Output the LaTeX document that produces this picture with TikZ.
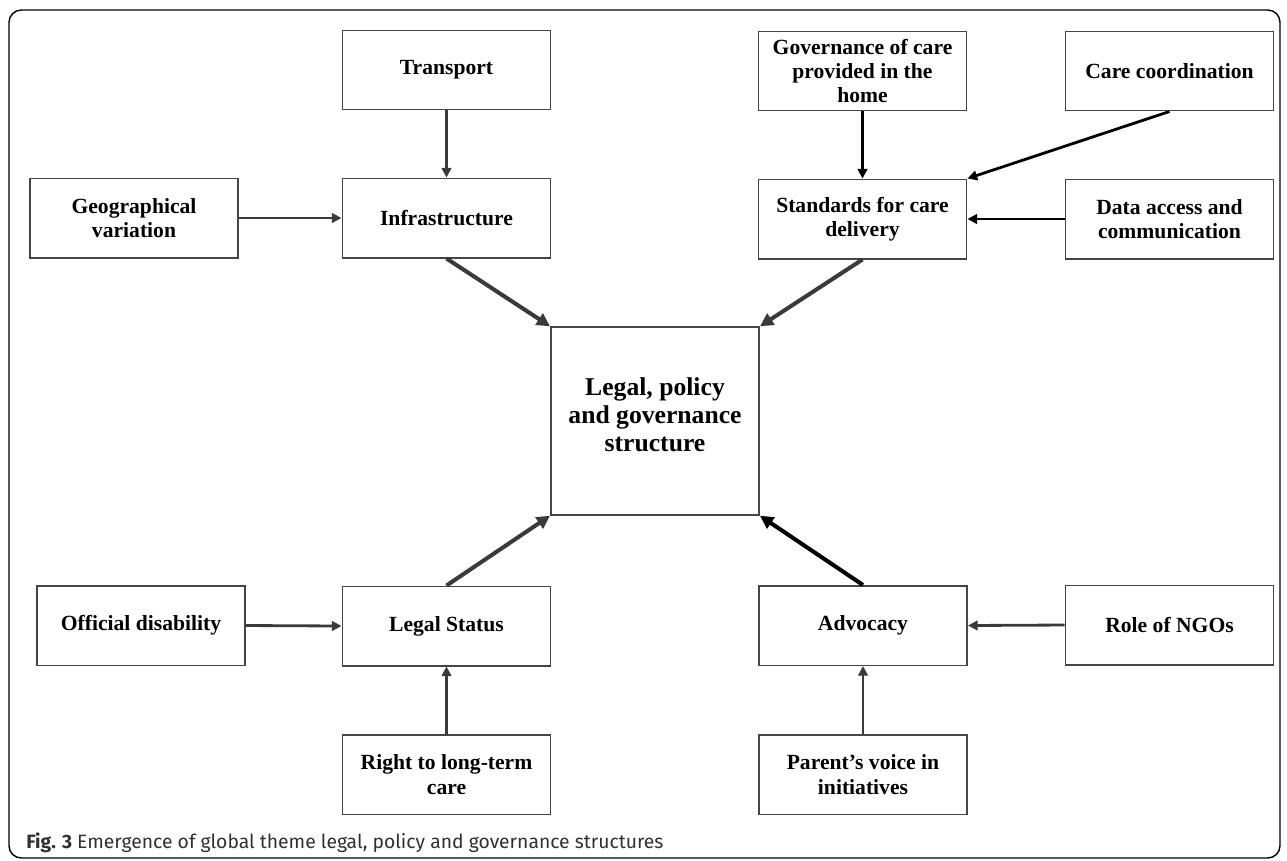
\documentclass[tikz,border=0pt]{standalone}
\usepackage{fontspec}
\setmainfont{Liberation Serif}
\newfontfamily\capfont{Fira Sans}
\usetikzlibrary{arrows.meta}

\definecolor{boxline}{HTML}{454545}
\definecolor{arrgray}{HTML}{3A3A3A}
\definecolor{captext}{HTML}{303030}

\begin{document}
\begin{tikzpicture}[x=0.02cm, y=-0.02cm,
  every node/.style={font=\bfseries\fontsize{12.3}{13.8}\selectfont, align=center},
  themebox/.style={draw=boxline, line width=0.85pt, inner sep=0pt,
    minimum width=4.17cm, minimum height=1.59cm},
  corebox/.style={themebox, minimum height=3.76cm,
    font=\bfseries\fontsize{14.6}{15.9}\selectfont},
  link/.style={-{Triangle[length=5.5pt, width=5.5pt]}, line width=1.6pt, draw=arrgray},
  linkdark/.style={link, draw=black},
  linkmain/.style={link, line width=2.3pt, -{Triangle[length=7.5pt, width=7.5pt]}}]

\useasboundingbox (0,0) rectangle (1287,860);

% outer frame
\draw[line width=0.8pt, rounded corners=7pt] (9,10) rectangle (1280,858);

% top left group
\node[themebox] (transport) at (446.5,70) {Transport};
\node[themebox] (infra) at (446.5,218) {Infrastructure};
\node[themebox] (geo) at (134,218) {Geographical\\variation};

% top right group
\node[themebox] (govern) at (862.5,71) {Governance of care\\provided in the\\home};
\node[themebox] (coord) at (1169.5,71) {Care coordination};
\node[themebox] (standards) at (862.5,219) {Standards for care\\delivery};
\node[themebox] (data) at (1169.5,219) {Data access and\\communication};

% centre
\node[corebox] (core) at (655,421) {Legal, policy\\and governance\\structure\rule[-7pt]{0pt}{7pt}};

% bottom left group
\node[themebox] (official) at (141,625.5) {Official disability};
\node[themebox] (legal) at (446.5,626) {Legal Status};
\node[themebox] (right) at (446.5,774.5) {Right to long-term\\care};

% bottom right group
\node[themebox] (advocacy) at (863,625.5) {Advocacy};
\node[themebox] (ngo) at (1169.5,625) {Role of NGOs};
\node[themebox] (parent) at (863,774.5) {Parent’s voice in\\initiatives};

% feeders
\draw[link] (transport.south) -- (infra.north);
\draw[link] (geo.east) -- (infra.west);
\draw[linkdark] (govern.south) -- (standards.north);
\draw[linkdark] (coord.south) -- (standards.north east);
\draw[linkdark] (data.west) -- (standards.east);
\draw[link] (official.east) -- (legal.west);
\draw[link] (right.north) -- (legal.south);
\draw[link] (ngo.west) -- (advocacy.east);
\draw[link] (parent.north) -- (advocacy.south);

% into the centre
\draw[linkmain] (infra.south) -- (core.north west);
\draw[linkmain] (standards.south) -- (core.north east);
\draw[linkmain] (legal.north) -- (core.south west);
\draw[linkmain, draw=black] (advocacy.north) -- (core.south east);

% caption
\node[anchor=base west, inner sep=0pt, text=captext,
  font=\capfont\mdseries\fontsize{11}{13}\selectfont] (caption) at (26,848)
  {\textbf{Fig. 3} Emergence of global theme legal, policy and governance structures};

\end{tikzpicture}
\end{document}
